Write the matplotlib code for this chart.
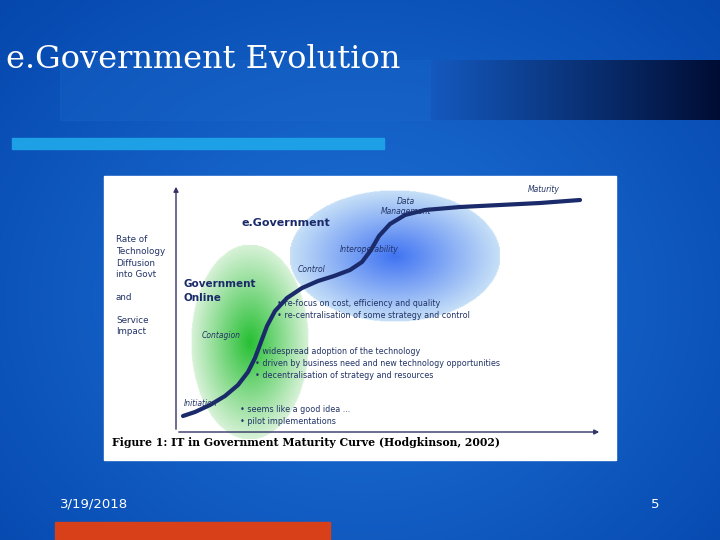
import numpy as np
import matplotlib
matplotlib.use("Agg")
import matplotlib.pyplot as plt
from matplotlib.patches import Rectangle, FancyArrowPatch

# data
curve_x = [183, 195, 210, 225, 238, 248, 255, 261, 267, 275, 287, 302, 318, 334, 350, 362, 371, 379, 390, 405, 425, 460, 500, 540, 580]
curve_y = [416, 412, 405, 396, 385, 372, 358, 342, 326, 311, 298, 288, 281, 276, 270, 262, 250, 236, 224, 215, 210, 207, 205, 203, 200]
title = "e.Government Evolution"
date_text = "3/19/2018"
page_text = "5"
bullets_top = ["\u2022 re-focus on cost, efficiency and quality", "\u2022 re-centralisation of some strategy and control"]
bullets_mid = ["\u2022 widespread adoption of the technology", "\u2022 driven by business need and new technology opportunities", "\u2022 decentralisation of strategy and resources"]
bullets_low = ["\u2022 seems like a good idea ...", "\u2022 pilot implementations"]

fig = plt.figure(figsize=(7.2, 5.4), dpi=100)
ax = fig.add_axes([0, 0, 1, 1])
ax.set_xlim(0, 720); ax.set_ylim(540, 0); ax.axis("off")

yy, xx = np.mgrid[0:540, 0:720]
d = np.sqrt(((xx - 360) / 500) ** 2 + ((yy - 300) / 420) ** 2)
base = np.array([0.12, 0.45, 0.85]); edge = np.array([0.02, 0.28, 0.68])
t = np.clip(d, 0, 1)[..., None]
bg = base * (1 - t) + edge * t
ax.imshow(bg, extent=[0, 720, 540, 0], zorder=0)

g = np.linspace(0, 1, 300)[None, :, None]
band = np.array([0.08, 0.35, 0.75]) * (1 - g) + np.array([0.0, 0.05, 0.2]) * g
ax.imshow(np.repeat(band, 2, axis=0), extent=[430, 720, 120, 60], aspect="auto", zorder=1)
ax.add_patch(Rectangle((60, 60), 370, 60, color="#1a66c8", zorder=1, alpha=0.35))

ax.text(6, 59, title, fontsize=23, family="DejaVu Serif", color="white", va="center", zorder=3)
ax.add_patch(Rectangle((12, 138), 372, 11, color="#1ea0e6", zorder=2))
ax.add_patch(Rectangle((55, 522), 275, 18, color="#d8401a", zorder=2))
ax.text(60, 504, date_text, fontsize=9.5, color="white", va="center")
ax.text(655, 504, page_text, fontsize=9.5, color="white", va="center", ha="center")

ax.add_patch(Rectangle((104, 176), 512, 284, color="white", zorder=2))

def ell(cx, cy, w, h, cin, cout):
    ys, xs = np.mgrid[0:200, 0:200]
    r = np.sqrt(((xs - 99.5) / 99.5) ** 2 + ((ys - 99.5) / 99.5) ** 2)
    rr = np.clip(r, 0, 1)[..., None]
    rgb = np.array(cin) * (1 - rr) + np.array(cout) * rr
    a = (r <= 1).astype(float)[..., None]
    ax.imshow(np.concatenate([rgb, a], axis=2), extent=[cx - w / 2, cx + w / 2, cy + h / 2, cy - h / 2], zorder=3, interpolation="bilinear")

ell(395, 256, 212, 132, [0.25, 0.45, 0.95], [0.78, 0.88, 0.97])
ell(250, 342, 118, 196, [0.15, 0.75, 0.2], [0.85, 0.95, 0.85])

ax.add_patch(FancyArrowPatch((176, 432), (176, 184), arrowstyle="-|>", mutation_scale=7, color="#333366", lw=1, zorder=4))
ax.add_patch(FancyArrowPatch((176, 432), (602, 432), arrowstyle="-|>", mutation_scale=7, color="#333366", lw=1, zorder=4))
ax.plot(curve_x, curve_y, color="#1a2a6a", lw=3, zorder=5, solid_capstyle="round")

tc = "#223366"
for i, s in enumerate(["Rate of", "Technology", "Diffusion", "into Govt", "", "and", "", "Service", "Impact"]):
    ax.text(116, 240 + i * 11.5, s, fontsize=6.3, color=tc, va="center", zorder=6)
ax.text(242, 223, "e.Government", fontsize=8, weight="bold", color="#1a2a6a", va="center", zorder=6)
ax.text(183, 284, "Government", fontsize=7.5, weight="bold", color="#1a2a6a", va="center", zorder=6)
ax.text(183, 298, "Online", fontsize=7.5, weight="bold", color="#1a2a6a", va="center", zorder=6)
for x, y, s in [(528, 189, "Maturity"), (397, 202, "Data"), (381, 211, "Management"), (340, 249, "Interoperability"),
                (298, 270, "Control"), (202, 335, "Contagion"), (184, 403, "Initiation")]:
    ax.text(x, y, s, fontsize=5.5, style="italic", color=tc, va="center", zorder=6)
for i, s in enumerate(bullets_top):
    ax.text(277, 304 + i * 12, s, fontsize=5.8, color=tc, va="center", zorder=6)
for i, s in enumerate(bullets_mid):
    ax.text(255, 352 + i * 12, s, fontsize=5.8, color=tc, va="center", zorder=6)
for i, s in enumerate(bullets_low):
    ax.text(240, 410 + i * 12, s, fontsize=5.8, color=tc, va="center", zorder=6)
ax.text(112, 443, "Figure 1: IT in Government Maturity Curve (Hodgkinson, 2002)", fontsize=7.8, weight="bold",
        family="DejaVu Serif", color="black", va="center", zorder=6)

fig.savefig("out.png", dpi=100)
